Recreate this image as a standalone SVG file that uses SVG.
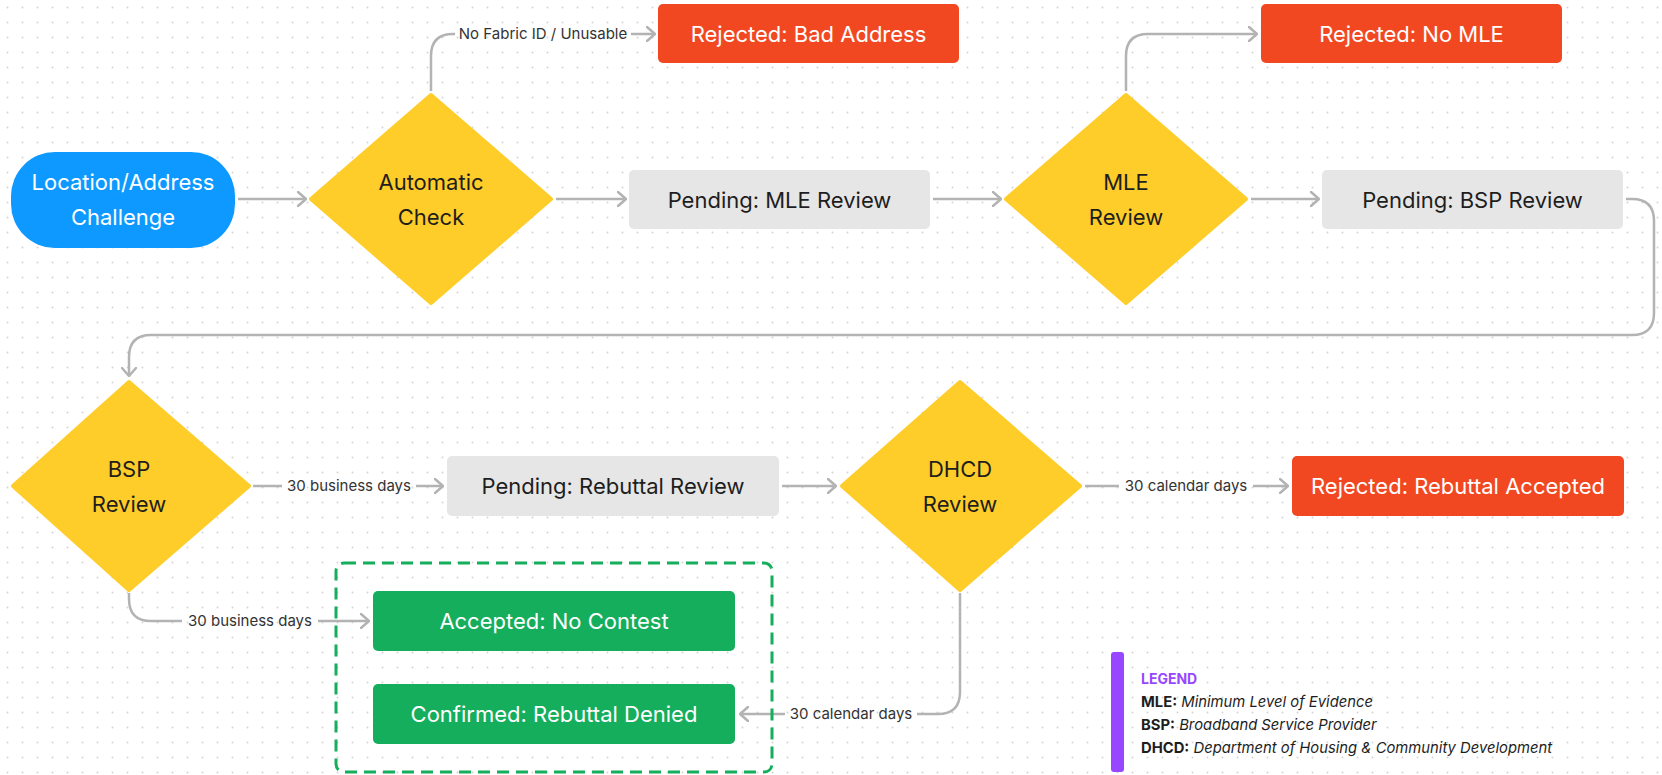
<svg xmlns="http://www.w3.org/2000/svg" width="1662" height="775" viewBox="0 0 1662 775">
<defs>
<pattern id="dots" x="0" y="0" width="15" height="15" patternUnits="userSpaceOnUse">
<circle cx="7.5" cy="7.5" r="1" fill="#d4d4d4"/>
</pattern>
<marker id="arr" viewBox="0 0 10 16" refX="9" refY="8" markerWidth="10" markerHeight="16" markerUnits="userSpaceOnUse" orient="auto">
<path d="M1,1 L9,8 L1,15" fill="none" stroke="#b3b3b3" stroke-width="2.5" stroke-linecap="round" stroke-linejoin="round"/>
</marker>
<style>
.node{font-family:Inter,"Noto Sans",sans-serif;font-size:22px;text-anchor:middle}
.w{fill:#ffffff}
.d{fill:#1e1e1e}
.lbl{font-family:Inter,"Noto Sans",sans-serif;font-size:15px;fill:#333333;text-anchor:middle}
.con{fill:none;stroke:#b3b3b3;stroke-width:2.5}
.dia{fill:#ffcd29;stroke:#ffcd29;stroke-width:4;stroke-linejoin:round}
.red{fill:#f24822}
.gray{fill:#e6e6e6}
.green{fill:#14ae5c}
.leg{font-family:Inter,"Noto Sans",sans-serif;font-size:14.8px;fill:#1e1e1e}
</style>
</defs>
<rect width="1662" height="775" fill="#ffffff"/>
<rect width="1662" height="775" fill="url(#dots)"/>

<g id="connectors">
<path class="con" d="M238,199 H306" marker-end="url(#arr)"/>
<path class="con" d="M556,199 H626" marker-end="url(#arr)"/>
<path class="con" d="M933,199 H1001" marker-end="url(#arr)"/>
<path class="con" d="M1251,199 H1319" marker-end="url(#arr)"/>
<path class="con" d="M431,91 V56 Q431,34 453,34 H455"/>
<path class="con" d="M631,34 H655" marker-end="url(#arr)"/>
<text class="lbl" x="543" y="39">No Fabric ID / Unusable</text>
<path class="con" d="M1126,91 V56 Q1126,34 1148,34 H1257" marker-end="url(#arr)"/>
<path class="con" d="M1626,199 H1632 Q1654,199 1654,221 V313 Q1654,335 1632,335 H151 Q129,335 129,357 V376" marker-end="url(#arr)"/>
<path class="con" d="M253,486 H282"/>
<text class="lbl" x="349" y="491">30 business days</text>
<path class="con" d="M416,486 H443" marker-end="url(#arr)"/>
<path class="con" d="M782,486 H836" marker-end="url(#arr)"/>
<path class="con" d="M1085,486 H1119"/>
<text class="lbl" x="1186" y="491">30 calendar days</text>
<path class="con" d="M1253,486 H1288" marker-end="url(#arr)"/>
<path class="con" d="M129,593 V599 Q129,621 151,621 H182"/>
<text class="lbl" x="250" y="626">30 business days</text>
<path class="con" d="M318,621 H369" marker-end="url(#arr)"/>
<path class="con" d="M960,593 V692 Q960,714 938,714 H917"/>
<text class="lbl" x="851" y="719">30 calendar days</text>
<path class="con" d="M785,714 H740" marker-end="url(#arr)"/>
</g>

<g id="start">
<rect x="11" y="152" width="224" height="96" rx="44" fill="#0d99ff"/>
<text class="node w" x="123" y="190">Location/Address</text>
<text class="node w" x="123" y="225">Challenge</text>
</g>
<g id="automatic-check">
<polygon class="dia" points="431,95 551,199 431,303 311,199"/>
<text class="node d" x="431" y="190">Automatic</text>
<text class="node d" x="431" y="225">Check</text>
</g>
<g id="rejected-bad-address">
<rect class="red" x="658" y="4" width="301" height="59" rx="5"/>
<text class="node w" x="808.5" y="41.5">Rejected: Bad Address</text>
</g>
<g id="pending-mle">
<rect class="gray" x="629" y="170" width="301" height="59" rx="5"/>
<text class="node d" x="779.5" y="207.5">Pending: MLE Review</text>
</g>
<g id="mle-review">
<polygon class="dia" points="1126,95 1246,199 1126,303 1006,199"/>
<text class="node d" x="1126" y="190">MLE</text>
<text class="node d" x="1126" y="225">Review</text>
</g>
<g id="rejected-no-mle">
<rect class="red" x="1261" y="4" width="301" height="59" rx="5"/>
<text class="node w" x="1411.5" y="41.5">Rejected: No MLE</text>
</g>
<g id="pending-bsp">
<rect class="gray" x="1322" y="170" width="301" height="59" rx="5"/>
<text class="node d" x="1472.5" y="207.5">Pending: BSP Review</text>
</g>
<g id="bsp-review">
<polygon class="dia" points="129,382 249,486 129,590 13,486"/>
<text class="node d" x="129" y="477">BSP</text>
<text class="node d" x="129" y="512">Review</text>
</g>
<g id="pending-rebuttal">
<rect class="gray" x="447" y="456" width="332" height="60" rx="5"/>
<text class="node d" x="613" y="494">Pending: Rebuttal Review</text>
</g>
<g id="dhcd-review">
<polygon class="dia" points="960,382 1080,486 960,590 842,486"/>
<text class="node d" x="960" y="477">DHCD</text>
<text class="node d" x="960" y="512">Review</text>
</g>
<g id="rejected-rebuttal-accepted">
<rect class="red" x="1292" y="456" width="332" height="60" rx="5"/>
<text class="node w" x="1458" y="494">Rejected: Rebuttal Accepted</text>
</g>
<g id="final-group">
<rect x="336" y="563" width="436" height="209" rx="8" fill="none" stroke="#14ae5c" stroke-width="3" stroke-dasharray="12 7"/>
</g>
<g id="accepted-no-contest">
<rect class="green" x="373" y="591" width="362" height="60" rx="5"/>
<text class="node w" x="554" y="629">Accepted: No Contest</text>
</g>
<g id="confirmed-rebuttal-denied">
<rect class="green" x="373" y="684" width="362" height="60" rx="5"/>
<text class="node w" x="554" y="722">Confirmed: Rebuttal Denied</text>
</g>
<g id="legend">
<rect x="1111" y="652" width="13" height="120" rx="3" fill="#9747ff"/>
<text class="leg" x="1141" y="684" style="fill:#9747ff;font-weight:700;font-size:14px">LEGEND</text>
<text class="leg" x="1141" y="707"><tspan font-weight="700">MLE:</tspan> <tspan font-style="italic">Minimum Level of Evidence</tspan></text>
<text class="leg" x="1141" y="730"><tspan font-weight="700">BSP:</tspan> <tspan font-style="italic">Broadband Service Provider</tspan></text>
<text class="leg" x="1141" y="753"><tspan font-weight="700">DHCD:</tspan> <tspan font-style="italic">Department of Housing &amp; Community Development</tspan></text>
</g>
</svg>
